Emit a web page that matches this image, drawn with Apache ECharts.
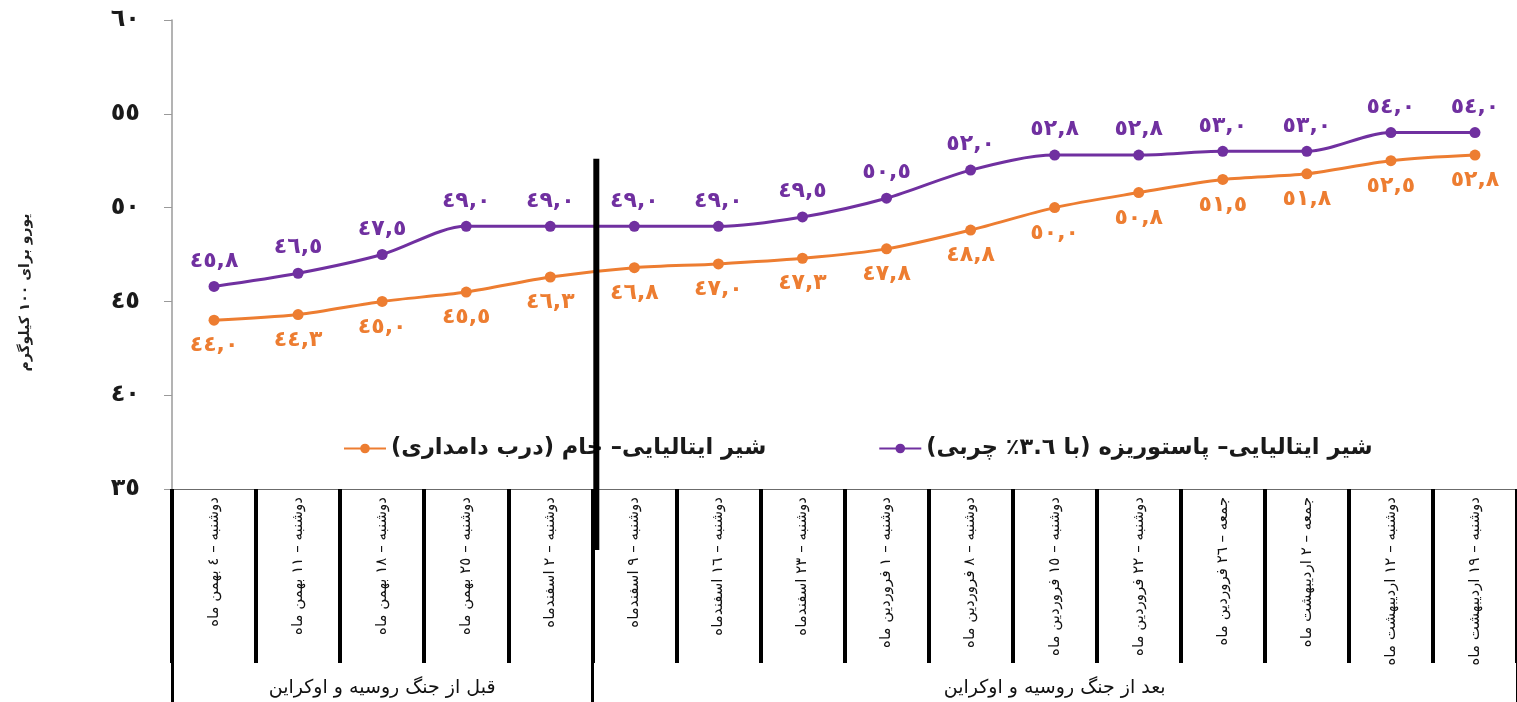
<!DOCTYPE html>
<html>
<head>
<meta charset="utf-8">
<script src="https://cdn.jsdelivr.net/npm/echarts@6/dist/echarts.min.js"></script>
<style>
  html, body { margin: 0; padding: 0; background: #ffffff; }
  #chart { width: 1517px; height: 702px; }
</style>
</head>
<body>
<div id="chart"></div>
<script>
// Weekly dates (Persian calendar)
const categories = [
  'دوشنبه – ٤ بهمن ماه',
  'دوشنبه – ١١ بهمن ماه',
  'دوشنبه – ١٨ بهمن ماه',
  'دوشنبه – ٢٥ بهمن ماه',
  'دوشنبه – ٢ اسفندماه',
  'دوشنبه – ٩ اسفندماه',
  'دوشنبه – ١٦ اسفندماه',
  'دوشنبه – ٢٣ اسفندماه',
  'دوشنبه – ١ فروردین ماه',
  'دوشنبه – ٨ فروردین ماه',
  'دوشنبه – ١٥ فروردین ماه',
  'دوشنبه – ٢٢ فروردین ماه',
  'جمعه – ٢٦ فروردین ماه',
  'جمعه – ٢ اردیبهشت ماه',
  'دوشنبه – ١٢ اردیبهشت ماه',
  'دوشنبه – ١٩ اردیبهشت ماه'
];

// Period groups along the bottom row and how many weeks each spans
const groupNames = ['قبل از جنگ روسیه و اوکراین', 'بعد از جنگ روسیه و اوکراین'];
const groupSizes = [5, 11];

// Prices, euro per 100 kg
const rawMilk = [44.0, 44.3, 45.0, 45.5, 46.3, 46.8, 47.0, 47.3, 47.8, 48.8, 50.0, 50.8, 51.5, 51.8, 52.5, 52.8];
const pasteurizedMilk = [45.8, 46.5, 47.5, 49.0, 49.0, 49.0, 49.0, 49.5, 50.5, 52.0, 52.8, 52.8, 53.0, 53.0, 54.0, 54.0];

const seriesNames = [
  'شیر ایتالیایی– خام (درب دامداری)',
  'شیر ایتالیایی– پاستوریزه (با ٣.٦٪ چربی)'
];
const yAxisTitle = 'یورو برای ۱۰۰ کیلوگرم';

// Value axis range
const yMin = 35, yMax = 60, yStep = 5;
// Upper end of the war-start divider, in axis units
const dividerTopValue = 52.6;

const RLM = '\u200F';
const arabicDigits = '٠١٢٣٤٥٦٧٨٩';
const toArabic = s => String(s).replace(/\d/g, d => arabicDigits[d]);
const fmtValue = v => toArabic(v.toFixed(1)).replace('.', ',');

// Bottom-row labels: each group name sits at the middle week of its span
const groupStarts = [];
const groupLabelAt = [];
groupSizes.forEach((n, g) => {
  groupStarts.push(groupLabelAt.length);
  for (let k = 0; k < n; k++) groupLabelAt.push(k === Math.floor(n / 2) ? groupNames[g] : '');
});
const indexKeys = categories.map((_, i) => String(i));

const ORANGE = '#ED7D31';
const PURPLE = '#7030A0';
const FONT = '"DejaVu Sans", sans-serif';

const GRID_BOTTOM = 213;   // table starts under the plot
const TABLE_ROW = 174;     // height of the date row
const DIVIDER_DROP = 61;   // how far the war divider reaches into the table

const chart = echarts.init(document.getElementById('chart'), null, { renderer: 'canvas' });

function lineSeries(name, data, color, pos) {
  return {
    name: name,
    type: 'line',
    data: data,
    smooth: 0.3,
    symbol: 'circle',
    symbolSize: 11,
    lineStyle: { color: color, width: 3 },
    itemStyle: { color: color },
    label: {
      show: true,
      position: pos,
      distance: 9,
      color: color,
      fontFamily: FONT,
      fontWeight: 'bold',
      fontSize: 22,
      formatter: p => fmtValue(p.value)
    },
    emphasis: { disabled: true },
    z: 3
  };
}

const option = {
  backgroundColor: '#ffffff',
  animation: false,
  textStyle: { fontFamily: FONT },
  grid: { left: 172, right: 0, top: 20, bottom: GRID_BOTTOM, containLabel: false },
  legend: {
    left: 338,
    top: 432,
    itemWidth: 42,
    itemHeight: 12,
    itemGap: 112,
    data: [seriesNames[0], seriesNames[1]],
    formatter: n => n + RLM,
    textStyle: { fontFamily: FONT, fontWeight: 'bold', fontSize: 22.5, color: '#1a1a1a' }
  },
  xAxis: [
    {
      // date row of the table
      type: 'category',
      data: categories,
      boundaryGap: true,
      axisLine: { show: true, lineStyle: { color: '#6b6b6b', width: 1 } },
      axisTick: { show: true, alignWithLabel: false, interval: 0, length: TABLE_ROW, lineStyle: { color: '#000000', width: 4 } },
      axisLabel: {
        interval: 0,
        rotate: 90,
        margin: 8,
        color: '#111111',
        fontFamily: FONT,
        fontSize: 15
      },
      splitLine: { show: false }
    },
    {
      // period row of the table
      type: 'category',
      data: indexKeys,
      position: 'bottom',
      offset: TABLE_ROW,
      boundaryGap: true,
      axisLine: { show: false },
      axisTick: {
        show: true,
        alignWithLabel: false,
        interval: i => groupStarts.indexOf(i) !== -1,
        length: 40,
        lineStyle: { color: '#000000', width: 3 }
      },
      axisLabel: {
        interval: 0,
        margin: 16,
        color: '#111111',
        fontFamily: FONT,
        fontSize: 19,
        formatter: (v, i) => groupLabelAt[i]
      },
      splitLine: { show: false }
    }
  ],
  yAxis: {
    type: 'value',
    min: yMin,
    max: yMax,
    interval: yStep,
    name: yAxisTitle,
    nameLocation: 'middle',
    nameRotate: 90,
    nameGap: 140,
    nameTextStyle: { fontFamily: FONT, fontWeight: 'bold', fontSize: 14, color: '#222222', padding: [0, 76, 0, 0] },
    axisLine: { show: true, lineStyle: { color: '#9a9a9a', width: 1.5 } },
    axisTick: { show: true, length: 8, lineStyle: { color: '#9a9a9a' } },
    axisLabel: {
      margin: 32,
      color: '#1a1a1a',
      fontFamily: FONT,
      fontWeight: 'bold',
      fontSize: 24,
      formatter: v => toArabic(v)
    },
    splitLine: { show: false }
  },
  series: [
    lineSeries(seriesNames[0], rawMilk, ORANGE, 'bottom'),
    lineSeries(seriesNames[1], pasteurizedMilk, PURPLE, 'top')
  ]
};

chart.setOption(option);

// War-start divider between the two periods
function drawDivider() {
  const last = groupStarts[1];
  const xPrev = chart.convertToPixel({ xAxisIndex: 0 }, last - 1);
  const xNext = chart.convertToPixel({ xAxisIndex: 0 }, last);
  const x = (xPrev + xNext) / 2 + 4;
  const yTop = chart.convertToPixel({ yAxisIndex: 0 }, dividerTopValue);
  const yBase = chart.convertToPixel({ yAxisIndex: 0 }, yMin) + DIVIDER_DROP;
  chart.setOption({
    graphic: [{
      type: 'rect',
      shape: { x: x - 3, y: yTop, width: 6, height: yBase - yTop },
      style: { fill: '#000000' },
      z: 10,
      silent: true
    }]
  });
}
drawDivider();
</script>
</body>
</html>
